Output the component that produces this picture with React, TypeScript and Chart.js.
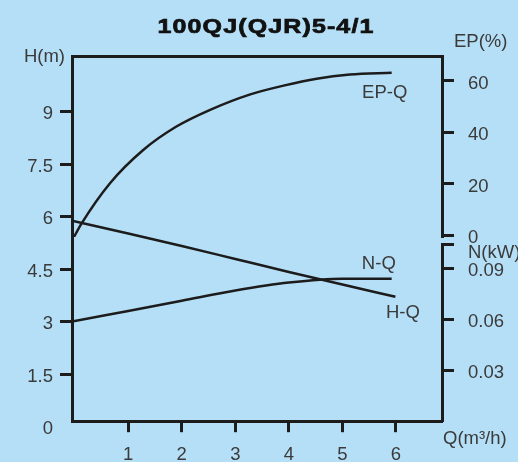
import React, { useEffect, useRef } from "react";
import { Chart, registerables } from "chart.js";

Chart.register(...registerables);

// ---- text ----
const TITLE = "100QJ(QJR)5-4/1";
const H_TITLE = "H(m)";
const EP_TITLE = "EP(%)";
const N_TITLE = "N(kW)";
const Q_TITLE = "Q(m³/h)";

// ---- data ----
const H_Q = [-0.05, 1, 2, 3, 4, 5, 5.99];
const H_VALUES = [5.88, 5.52, 5.16, 4.79, 4.42, 4.06, 3.71];

const N_Q = [-0.05, 1, 2, 3, 4, 5, 5.92];
const N_VALUES = [0.0589, 0.0652, 0.0712, 0.0772, 0.0819, 0.0842, 0.0841];

const EP_Q = [-0.05, 0.13, 0.66, 1.28, 1.9, 2.53, 3.28, 3.9, 4.52, 5.14, 5.92];
const EP_VALUES = [-2.0, 4.7, 20.3, 33.2, 42.3, 48.8, 54.8, 58.2, 60.9, 62.5, 63.2];

// ---- tick values ----
const X_TICKS = [1, 2, 3, 4, 5, 6];
const H_TICKS = [0, 1.5, 3, 4.5, 6, 7.5, 9];
const EP_TICKS = [0, 20, 40, 60];
const N_TICKS = [0.03, 0.06, 0.09];

// ---- axis ranges ----
const X_MIN = -0.05, X_MAX = 6.86;
const H_MIN = 0.14, H_MAX = 10.59;
const EP_MIN = -0.6, EP_MAX = 69.7;
const N_MIN = 0, N_MAX = 0.1046;

// ---- curve labels ----
const CURVE_LABELS = [
  { text: "EP-Q", q: 5.79, v: 55.5, axis: "yEP" },
  { text: "N-Q", q: 5.68, v: 0.0928, axis: "yN" },
  { text: "H-Q", q: 6.13, v: 3.25, axis: "yH" },
];

// ---- style ----
const BG = "#b5dff6";
const INK = "#1c1c1c";
const TEXT = "#3a3a3a";
const FONT = "'Liberation Sans', Arial, sans-serif";
const FS = 18.5;

const pts = (xs: number[], ys: number[]) => xs.map((x, i) => ({ x, y: ys[i] }));

const textPlugin = {
  id: "extraTexts",
  beforeDraw(chart: any) {
    const ctx = chart.ctx;
    ctx.save();
    ctx.fillStyle = BG;
    ctx.fillRect(0, 0, chart.width, chart.height);
    ctx.restore();
  },
  afterDraw(chart: any) {
    const ctx = chart.ctx;
    const a = chart.chartArea;
    ctx.save();
    // title
    ctx.save();
    ctx.fillStyle = "#111";
    ctx.strokeStyle = "#111";
    ctx.lineWidth = 0.7;
    ctx.font = `bold 20px ${FONT}`;
    try { (ctx as any).letterSpacing = "0.9px"; } catch (e) {}
    ctx.textAlign = "center";
    ctx.textBaseline = "middle";
    ctx.translate((a.left + a.right) / 2 + 9, 27);
    ctx.scale(1.25, 1);
    ctx.fillText(TITLE, 0, 0);
    ctx.strokeText(TITLE, 0, 0);
    ctx.restore();

    ctx.fillStyle = TEXT;
    ctx.font = `${FS}px ${FONT}`;
    ctx.textBaseline = "middle";
    // H(m)
    ctx.textAlign = "right";
    ctx.fillText(H_TITLE, a.left - 7, a.top + 1);
    // EP(%)
    ctx.textAlign = "left";
    ctx.fillText(EP_TITLE, a.right + 12, a.top - 14);
    // N(kW)
    ctx.fillText(N_TITLE, a.right + 26, chart.scales.yN.getPixelForValue(N_MAX) + 9);
    // Q(m3/h)
    ctx.fillText(Q_TITLE, a.right + 1, a.bottom + 17);

    // curve labels
    ctx.textAlign = "center";
    const xs = chart.scales.x;
    for (const l of CURVE_LABELS) {
      const ys = chart.scales[l.axis];
      ctx.fillText(l.text, xs.getPixelForValue(l.q), ys.getPixelForValue(l.v));
    }
    ctx.restore();
  },
};

const tickFont = { family: FONT, size: FS };

const rightGrid = {
  display: true,
  drawOnChartArea: false,
  drawTicks: true,
  tickLength: 12,
  tickWidth: 3,
  tickColor: INK,
};

export default function App() {
  const ref = useRef<HTMLCanvasElement>(null);

  useEffect(() => {
    document.body.style.margin = "0";
    document.body.style.background = BG;
    const line = { borderColor: INK, borderWidth: 2.5, pointRadius: 0, fill: false, cubicInterpolationMode: "monotone" as const };
    const chart = new Chart(ref.current as HTMLCanvasElement, {
      type: "line",
      data: {
        datasets: [
          { label: "H-Q", data: pts(H_Q, H_VALUES), yAxisID: "yH", xAxisID: "x", ...line },
          { label: "N-Q", data: pts(N_Q, N_VALUES), yAxisID: "yN", xAxisID: "x", ...line },
          { label: "EP-Q", data: pts(EP_Q, EP_VALUES), yAxisID: "yEP", xAxisID: "x", ...line },
        ],
      },
      options: {
        animation: false,
        responsive: false,
        devicePixelRatio: 1,
        layout: { padding: 0 },
        plugins: { legend: { display: false }, title: { display: false }, tooltip: { enabled: false } },
        scales: {
          x: {
            type: "linear",
            position: "bottom",
            min: X_MIN,
            max: X_MAX,
            afterBuildTicks: (s: any) => { s.ticks = X_TICKS.map((v) => ({ value: v })); },
            afterFit: (s: any) => { s.height = 40.3; },
            border: { display: true, width: 3, color: INK },
            grid: { display: true, drawOnChartArea: false, drawTicks: true, tickLength: 10.5, tickWidth: 3, tickColor: INK },
            ticks: { autoSkip: false, maxRotation: 0, padding: 11.5, color: TEXT, font: tickFont, callback: (v: any) => String(v) },
          },
          xTop: {
            type: "linear",
            position: "top",
            min: X_MIN,
            max: X_MAX,
            afterFit: (s: any) => { s.height = 56; },
            border: { display: true, width: 3, color: INK },
            grid: { display: false },
            ticks: { display: false },
          },
          yH: {
            type: "linear",
            position: "left",
            min: H_MIN,
            max: H_MAX,
            afterBuildTicks: (s: any) => { s.ticks = H_TICKS.map((v) => ({ value: v })); },
            afterFit: (s: any) => { s.width = 72; },
            border: { display: true, width: 3, color: INK },
            grid: {
              display: true,
              drawOnChartArea: false,
              drawTicks: true,
              tickLength: 12,
              tickWidth: 3,
              tickColor: (c: any) => (c.tick && c.tick.value === 0 ? "rgba(0,0,0,0)" : INK),
            },
            ticks: { autoSkip: false, padding: 7, labelOffset: 2.5, color: TEXT, font: tickFont, callback: (v: any) => String(v) },
          },
          yEP: {
            type: "linear",
            position: "right",
            stack: "right",
            stackWeight: 181,
            min: EP_MIN,
            max: EP_MAX,
            afterBuildTicks: (s: any) => { s.ticks = EP_TICKS.map((v) => ({ value: v })); },
            afterFit: (s: any) => { s.width = 76; },
            border: { display: true, width: 3, color: INK },
            grid: rightGrid,
            ticks: { autoSkip: false, padding: 14, labelOffset: 2.5, color: TEXT, font: tickFont, callback: (v: any) => String(v) },
          },
          ySpacer: {
            type: "linear",
            position: "right",
            stack: "right",
            stackWeight: 7,
            min: 0,
            max: 1,
            afterFit: (s: any) => { s.width = 76; },
            border: { display: false },
            grid: { display: false },
            ticks: { display: false },
          },
          yN: {
            type: "linear",
            position: "right",
            stack: "right",
            stackWeight: 177.7,
            min: N_MIN,
            max: N_MAX,
            afterBuildTicks: (s: any) => { s.ticks = [...N_TICKS, N_MAX].map((v) => ({ value: v })); },
            afterFit: (s: any) => { s.width = 76; },
            border: { display: true, width: 3, color: INK },
            grid: rightGrid,
            ticks: {
              autoSkip: false,
              padding: 14,
              labelOffset: 2.5,
              color: TEXT,
              font: tickFont,
              callback: (v: any) => (v === N_MAX ? "" : Number(v).toFixed(2)),
            },
          },
        },
      },
      plugins: [textPlugin],
    } as any);
    return () => chart.destroy();
  }, []);

  return (
    <div style={{ width: 518, height: 462, background: BG }}>
      <canvas ref={ref} width={518} height={462} style={{ display: "block" }} />
    </div>
  );
}
